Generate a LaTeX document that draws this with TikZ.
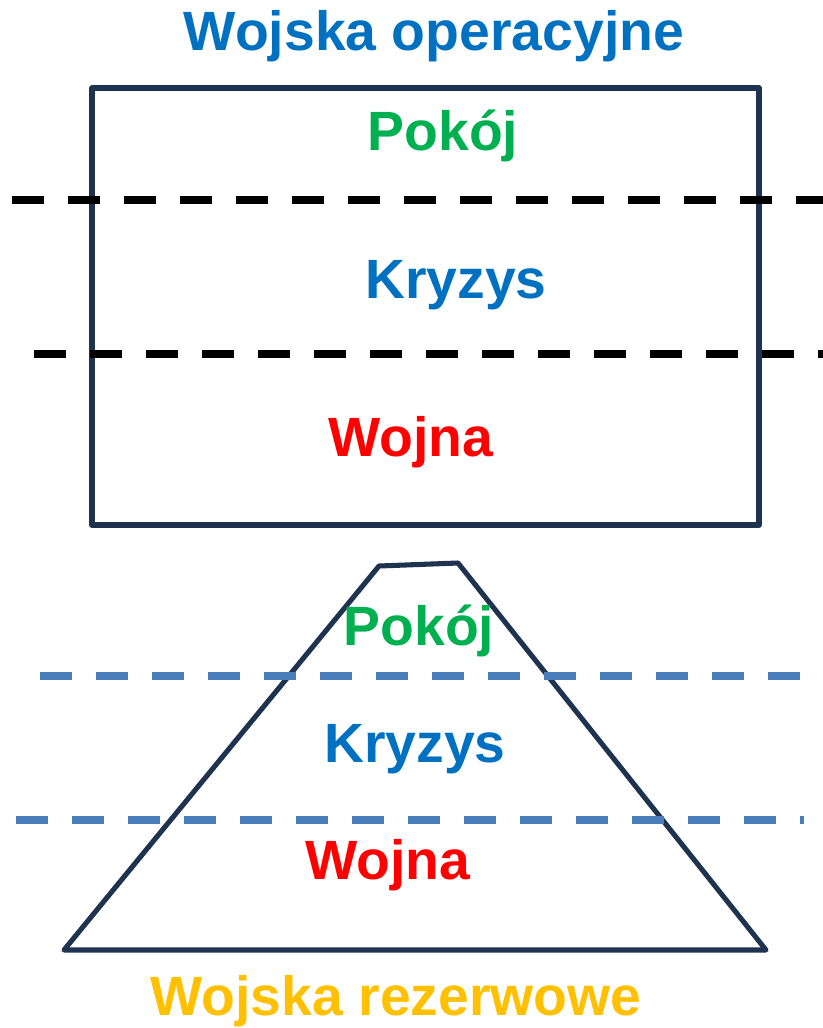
\documentclass[tikz,border=0pt]{standalone}
\usepackage{fontspec}
\setmainfont{Liberation Sans}

\definecolor{framenavy}{HTML}{1F3350}
\definecolor{dashblue}{HTML}{4A7EBB}
\definecolor{titleblue}{HTML}{0070C0}
\definecolor{peacegreen}{HTML}{00B050}
\definecolor{warred}{HTML}{FF0000}
\definecolor{reserveyellow}{HTML}{FFC000}

\tikzset{
  label text/.style={font=\bfseries\fontsize{41.5}{47}\selectfont, anchor=base, inner sep=0pt},
  frame line/.style={draw=framenavy, line width=3.8pt, line join=round},
  level line/.style={line width=5.4pt, dash pattern=on 24pt off 18pt}
}

\begin{document}
\begin{tikzpicture}[x=0.75pt, y=-0.75pt]
  % Fix the page to the proportions of the image
  \useasboundingbox (0,0) rectangle (823,1028);

  % Corners of the operational forces box
  \coordinate (TL) at (92, 88);
  \coordinate (BR) at (759, 525);

  % Corners of the reserve forces trapezoid
  \coordinate (P1) at (379, 566);   % Top left
  \coordinate (P2) at (458, 563);   % Top right
  \coordinate (P3) at (766, 950);   % Bottom right
  \coordinate (P4) at (64, 950);    % Bottom left

  % Draw the box and the trapezoid
  \draw[frame line] (TL) rectangle (BR);
  \draw[frame line] (P1) -- (P2) -- (P3) -- (P4) -- cycle;

  % Dashed level lines across the box
  \draw[level line, black] (12, 200) -- (823, 200);
  \draw[level line, black] (34, 354) -- (823, 354);

  % Dashed level lines across the trapezoid
  \draw[level line, dashblue] (40, 676) -- (802, 676);
  \draw[level line, dashblue] (16, 820) -- (804, 820);

  % Titles
  \node[label text, titleblue] (opTitle) at (434, 50) {Wojska operacyjne};
  \node[label text, reserveyellow] (resTitle) at (396, 1015) {Wojska rezerwowe};

  % Labels inside the box
  \node[label text, peacegreen] (opPeace) at (443, 150) {Pokój};
  \node[label text, titleblue] (opCrisis) at (456, 298) {Kryzys};
  \node[label text, warred] (opWar) at (411, 456) {Wojna};

  % Labels inside the trapezoid
  \node[label text, peacegreen] (resPeace) at (419, 645) {Pokój};
  \node[label text, titleblue] (resCrisis) at (415, 762) {Kryzys};
  \node[label text, warred] (resWar) at (388, 879) {Wojna};

\end{tikzpicture}
\end{document}
